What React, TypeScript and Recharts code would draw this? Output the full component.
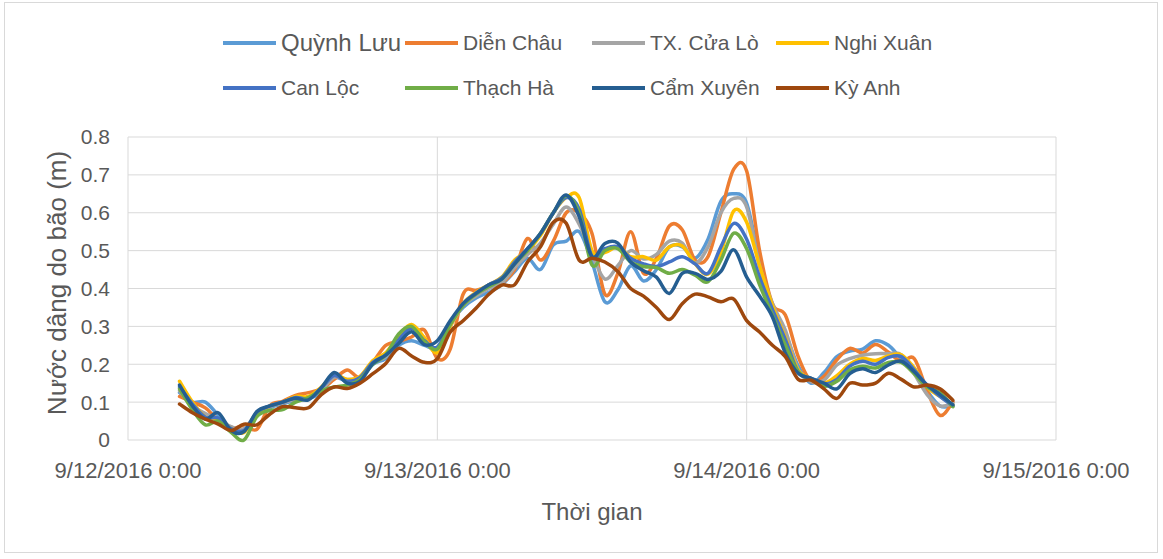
import React from 'react';
import { LineChart, Line, XAxis, YAxis, CartesianGrid } from 'recharts';

// Hours since 9/12/2016 0:00
const hours = [4,5,6,7,8,9,10,11,12,13,14,15,16,17,18,19,20,21,22,23,24,25,26,27,28,29,30,31,32,33,34,35,36,37,38,39,40,41,42,43,44,45,46,47,48,49,50,51,52,53,54,55,56,57,58,59,60,61,62,63,64];

const quynhLuu = [0.125,0.1,0.1,0.065,0.03,0.025,0.065,0.085,0.095,0.105,
  0.11,0.125,0.165,0.155,0.165,0.2,0.215,0.25,0.262,0.25,
  0.245,0.31,0.35,0.375,0.39,0.41,0.445,0.48,0.45,0.515,
  0.525,0.55,0.47,0.365,0.396,0.46,0.42,0.45,0.51,0.51,
  0.48,0.53,0.63,0.65,0.625,0.47,0.34,0.28,0.195,0.15,
  0.178,0.22,0.235,0.24,0.262,0.25,0.215,0.19,0.13,0.09,
  0.09];
const dienChau = [0.115,0.1,0.085,0.052,0.03,0.038,0.028,0.09,0.102,0.118,
  0.125,0.135,0.16,0.185,0.165,0.205,0.25,0.26,0.272,0.29,
  0.215,0.24,0.385,0.395,0.405,0.415,0.45,0.532,0.475,0.525,
  0.6,0.6,0.545,0.385,0.44,0.55,0.44,0.48,0.565,0.555,
  0.475,0.484,0.6,0.715,0.71,0.5,0.36,0.33,0.22,0.155,
  0.168,0.212,0.242,0.23,0.252,0.232,0.207,0.215,0.13,0.065,
  0.1];
const cuaLo = [0.13,0.09,0.07,0.055,0.035,0.03,0.07,0.088,0.098,0.108,
  0.112,0.132,0.165,0.16,0.165,0.205,0.22,0.27,0.3,0.26,
  0.238,0.3,0.355,0.38,0.4,0.415,0.455,0.49,0.52,0.57,
  0.615,0.57,0.49,0.425,0.46,0.5,0.478,0.49,0.525,0.52,
  0.468,0.51,0.6,0.638,0.615,0.46,0.36,0.29,0.185,0.155,
  0.158,0.198,0.215,0.224,0.228,0.228,0.225,0.175,0.12,0.09,
  0.097];
const nghiXuan = [0.155,0.1,0.06,0.055,0.03,0.02,0.07,0.09,0.1,0.115,
  0.115,0.14,0.172,0.16,0.168,0.21,0.23,0.275,0.305,0.27,
  0.23,0.3,0.36,0.39,0.41,0.43,0.475,0.5,0.54,0.6,
  0.64,0.64,0.5,0.495,0.51,0.484,0.484,0.475,0.51,0.512,
  0.465,0.438,0.495,0.605,0.575,0.46,0.355,0.27,0.185,0.162,
  0.15,0.17,0.2,0.215,0.21,0.222,0.225,0.19,0.14,0.115,
  0.092];
const canLoc = [0.14,0.095,0.06,0.058,0.03,0.025,0.072,0.09,0.1,0.112,
  0.11,0.138,0.17,0.155,0.165,0.205,0.225,0.265,0.295,0.262,
  0.245,0.305,0.36,0.388,0.41,0.428,0.47,0.505,0.545,0.6,
  0.64,0.61,0.485,0.505,0.51,0.48,0.465,0.458,0.47,0.484,
  0.465,0.44,0.51,0.572,0.53,0.43,0.345,0.265,0.18,0.163,
  0.148,0.16,0.195,0.208,0.2,0.218,0.22,0.185,0.145,0.115,
  0.09];
const thachHa = [0.135,0.08,0.04,0.05,0.02,0.0,0.062,0.078,0.08,0.1,
  0.112,0.13,0.14,0.145,0.16,0.2,0.225,0.28,0.3,0.26,
  0.24,0.305,0.355,0.385,0.405,0.425,0.465,0.5,0.545,0.6,
  0.645,0.6,0.462,0.5,0.505,0.47,0.458,0.455,0.44,0.45,
  0.435,0.418,0.475,0.546,0.505,0.41,0.33,0.25,0.18,0.16,
  0.142,0.155,0.185,0.195,0.19,0.205,0.205,0.175,0.14,0.125,
  0.088];
const camXuyen = [0.145,0.09,0.055,0.072,0.025,0.022,0.075,0.09,0.1,0.11,
  0.106,0.138,0.178,0.15,0.155,0.202,0.224,0.255,0.286,0.252,
  0.262,0.315,0.36,0.387,0.41,0.425,0.465,0.505,0.545,0.6,
  0.647,0.59,0.484,0.519,0.52,0.47,0.447,0.43,0.387,0.44,
  0.44,0.424,0.445,0.502,0.43,0.38,0.325,0.23,0.176,0.163,
  0.15,0.135,0.175,0.188,0.178,0.198,0.208,0.18,0.145,0.12,
  0.093];
const kyAnh = [0.095,0.072,0.055,0.042,0.025,0.042,0.04,0.068,0.088,0.085,
  0.085,0.12,0.14,0.136,0.15,0.175,0.202,0.242,0.222,0.205,
  0.215,0.285,0.315,0.348,0.385,0.409,0.41,0.47,0.51,0.575,
  0.572,0.475,0.48,0.47,0.445,0.4,0.38,0.35,0.318,0.36,
  0.385,0.378,0.365,0.372,0.315,0.285,0.25,0.22,0.16,0.158,
  0.135,0.11,0.15,0.145,0.15,0.176,0.16,0.14,0.145,0.135,
  0.105];

const seriesNames = ['Quỳnh Lưu', 'Diễn Châu', 'TX. Cửa Lò', 'Nghi Xuân', 'Can Lộc', 'Thạch Hà', 'Cẩm Xuyên', 'Kỳ Anh'];
const seriesColors = ['#5B9BD5', '#ED7D31', '#A5A5A5', '#FFC000', '#4472C4', '#70AD47', '#255E91', '#9E480E'];
const seriesValues = [quynhLuu, dienChau, cuaLo, nghiXuan, canLoc, thachHa, camXuyen, kyAnh];

const xTicks = [0, 24, 48, 72];
const xTickLabels = ['9/12/2016 0:00', '9/13/2016 0:00', '9/14/2016 0:00', '9/15/2016 0:00'];
const yTicks = [0, 0.1, 0.2, 0.3, 0.4, 0.5, 0.6, 0.7, 0.8];
const yTickLabels = ['0', '0.1', '0.2', '0.3', '0.4', '0.5', '0.6', '0.7', '0.8'];

const data = hours.map((h, i) => {
  const row: any = { h };
  seriesValues.forEach((vals, k) => { row['s' + k] = vals[i]; });
  return row;
});

// Excel-like smoothed line (Catmull-Rom bezier)
function excelSmooth(context: any) {
  let pts: number[][] = [];
  return {
    areaStart() {},
    areaEnd() {},
    lineStart() { pts = []; },
    point(x: number, y: number) { pts.push([+x, +y]); },
    lineEnd() {
      if (!pts.length) return;
      context.moveTo(pts[0][0], pts[0][1]);
      for (let i = 0; i < pts.length - 1; i++) {
        const p0 = pts[i - 1] || pts[i];
        const p1 = pts[i];
        const p2 = pts[i + 1];
        const p3 = pts[i + 2] || p2;
        const c1x = p1[0] + (p2[0] - p0[0]) / 6;
        const c1y = p1[1] + (p2[1] - p0[1]) / 6;
        const c2x = p2[0] - (p3[0] - p1[0]) / 6;
        const c2y = p2[1] - (p3[1] - p1[1]) / 6;
        context.bezierCurveTo(c1x, c1y, c2x, c2y, p2[0], p2[1]);
      }
    },
  };
}

const FONT = '"Liberation Sans", Arial, sans-serif';
const TXT = '#595959';
const legendCols = [223, 405, 592, 776];
const legendRows = [43, 88];

export default function App() {
  return (
    <div style={{ position: 'absolute', left: 0, top: 0, width: 1163, height: 559, background: '#fff', fontFamily: FONT }}>
      <div style={{ position: 'absolute', left: 4, top: 2, width: 1154, height: 551, border: '1px solid #d9d9d9', boxSizing: 'border-box' }} />
      <LineChart width={1163} height={559} data={data} margin={{ top: 137, right: 107, bottom: 79, left: 0 }}>
        <CartesianGrid stroke="#d9d9d9" strokeWidth={1} />
        <XAxis
          dataKey="h"
          type="number"
          domain={[0, 72]}
          ticks={xTicks}
          tickFormatter={(v: number, i: number) => xTickLabels[i]}
          axisLine={false}
          tickLine={false}
          tickSize={0}
          tickMargin={22}
          height={40}
          interval={0}
          tick={{ fill: TXT, fontSize: 22, fontFamily: FONT }}
        />
        <YAxis
          type="number"
          domain={[0, 0.8]}
          ticks={yTicks}
          tickFormatter={(v: number, i: number) => yTickLabels[i]}
          axisLine={false}
          tickLine={false}
          tickSize={0}
          tickMargin={18}
          width={128}
          interval={0}
          tick={{ fill: TXT, fontSize: 21, fontFamily: FONT }}
        />
        {seriesNames.map((name, k) => (
          <Line
            key={name}
            name={name}
            dataKey={'s' + k}
            stroke={seriesColors[k]}
            strokeWidth={3.5}
            strokeLinejoin="round"
            strokeLinecap="round"
            dot={false}
            activeDot={false}
            type={excelSmooth as any}
            isAnimationActive={false}
          />
        ))}
      </LineChart>
      {seriesNames.map((name, k) => {
        const col = k % 4;
        const row = Math.floor(k / 4);
        const x = legendCols[col];
        const y = legendRows[row];
        return (
          <div key={name} style={{ position: 'absolute', left: x, top: y - 15, height: 30, display: 'flex', alignItems: 'center', whiteSpace: 'nowrap' }}>
            <div style={{ width: 53, height: 3.5, background: seriesColors[k] }} />
            <span style={{ marginLeft: 5, color: TXT, fontSize: k === 0 ? 24 : 21 }}>{name}</span>
          </div>
        );
      })}
      <div style={{ position: 'absolute', left: 392, width: 400, top: 497, textAlign: 'center', color: TXT, fontSize: 24, lineHeight: '30px' }}>Thời gian</div>
      <div style={{ position: 'absolute', left: 57, top: 283, transform: 'translate(-50%, -50%) rotate(-90deg)', whiteSpace: 'nowrap', color: TXT, fontSize: 26, lineHeight: '30px' }}>Nước dâng do bão (m)</div>
    </div>
  );
}
